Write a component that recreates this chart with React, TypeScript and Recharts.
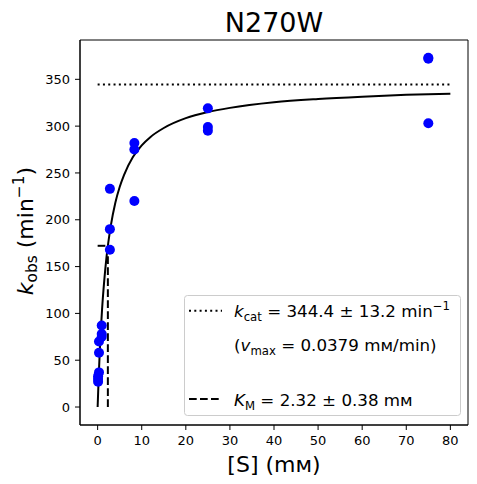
import { ComposedChart, Line, Scatter, XAxis, YAxis, ReferenceLine, ReferenceArea } from "recharts";

// substrate concentrations (mM), triplicates of a 3-fold dilution series
const substrate = [75, 75, 75, 25, 25, 25, 8.33, 8.33, 8.33, 2.78, 2.78, 2.78, 0.926, 0.926, 0.926, 0.309, 0.309, 0.309, 0.103, 0.103, 0.103];
const kobs = [373, 372, 303, 319, 299, 295, 282, 275, 220, 233, 190, 168, 87, 78, 75, 70, 58, 37, 33, 30, 27];

// fitted Michaelis-Menten curve
const fitS = [0, 0.25, 0.5, 1, 1.5, 2, 3, 4, 5, 6, 8, 10, 12, 15, 20, 25, 30, 40, 50, 60, 70, 80];
const fitK = [0, 33.5, 61, 104, 135, 159.5, 194, 218, 235, 248, 267, 279.5, 288.5, 298, 308.5, 315, 319.5, 325.5, 329, 331.5, 333.5, 334.7];

const kcat = 344.4;
const km = 2.32;
const xDomain = [-4, 84];
const yDomain = [-19.2, 392];
const xTicks = [0, 10, 20, 30, 40, 50, 60, 70, 80];
const yTicks = [0, 50, 100, 150, 200, 250, 300, 350];

const points = substrate.map((s, i) => ({ x: s, y: kobs[i] }));
const fit = fitS.map((s, i) => ({ x: s, y: fitK[i] }));

const font = "DejaVu Sans";
const tickStyle = { fontSize: 13, fill: "#000", fontFamily: font };

export default function App() {
  return (
    <div style={{ position: "absolute", left: 0, top: 0, width: 477, height: 484, background: "#fff" }}>
      <ComposedChart width={477} height={484} margin={{ top: 40, right: 9, bottom: 0, left: 0 }}>
        <XAxis
          dataKey="x"
          type="number"
          domain={xDomain}
          ticks={xTicks}
          allowDataOverflow
          height={59}
          tickSize={5}
          tickMargin={6}
          tick={tickStyle}
          axisLine={{ stroke: "#000" }}
          tickLine={{ stroke: "#000" }}
          label={() => (
            <text x={274} y={471.7} textAnchor="middle" fontSize={22} fontFamily={font} fill="#000">
              [S] (mᴍ)
            </text>
          )}
        />
        <YAxis
          type="number"
          domain={yDomain}
          ticks={yTicks}
          allowDataOverflow
          width={80}
          tickSize={5}
          tickMargin={5}
          tick={tickStyle}
          axisLine={{ stroke: "#000" }}
          tickLine={{ stroke: "#000" }}
          label={() => (
            <text x={33.3} y={231} transform="rotate(-90 33.3 231)" textAnchor="middle" fontSize={22} fontFamily={font} fill="#000">
              <tspan fontStyle="italic">k</tspan>
              <tspan fontSize={15.4} dy={4}>obs</tspan>
              <tspan dy={-4}> (min</tspan>
              <tspan fontSize={15.4} dy={-9}>−1</tspan>
              <tspan dy={9}>)</tspan>
            </text>
          )}
        />
        {/* box spines */}
        <ReferenceArea x1={xDomain[0]} x2={xDomain[1]} y1={yDomain[0]} y2={yDomain[1]} fill="none" fillOpacity={0} stroke="#000" strokeWidth={1} ifOverflow="visible" />
        <ReferenceLine segment={[{ x: 0, y: kcat }, { x: 80, y: kcat }]} stroke="#000" strokeWidth={2} strokeDasharray="2 3.3" />
        <ReferenceLine segment={[{ x: 0, y: kcat / 2 }, { x: km, y: kcat / 2 }]} stroke="#000" strokeWidth={2} strokeDasharray="7.7 3.3" />
        <ReferenceLine segment={[{ x: km, y: 0 }, { x: km, y: kcat / 2 }]} stroke="#000" strokeWidth={2} strokeDasharray="7.7 3.3" />
        <Line data={fit} dataKey="y" type="monotone" stroke="#000" strokeWidth={2} dot={false} isAnimationActive={false} />
        <Scatter
          data={points}
          dataKey="y"
          fill="#0000ff"
          isAnimationActive={false}
          shape={(p: any) => <circle cx={p.cx} cy={p.cy} r={5} fill="#0000ff" />}
        />
      </ComposedChart>
      <svg width={477} height={484} style={{ position: "absolute", left: 0, top: 0, pointerEvents: "none" }}>
        <text x={274} y={31.7} textAnchor="middle" fontSize={27} fontFamily={font} fill="#000">
          N270W
        </text>
        <rect x={184.5} y={295.5} width={276} height={120} rx={3} fill="#fff" fillOpacity={0.8} stroke="#cccccc" />
        <line x1={189} x2={222} y1={310.7} y2={310.7} stroke="#000" strokeWidth={2} strokeDasharray="2 3.3" />
        <text x={234} y={317.3} fontSize={16.7} fontFamily={font} fill="#000">
          <tspan fontStyle="italic">k</tspan>
          <tspan fontSize={11.7} dy={3.5}>cat</tspan>
          <tspan dy={-3.5}> = 344.4 ± 13.2 min</tspan>
          <tspan fontSize={11.7} dy={-7}>−1</tspan>
        </text>
        <text x={234} y={351} fontSize={16.7} fontFamily={font} fill="#000">
          <tspan>(</tspan>
          <tspan fontStyle="italic">v</tspan>
          <tspan fontSize={11.7} dy={3.5}>max</tspan>
          <tspan dy={-3.5}> = 0.0379 mᴍ/min)</tspan>
        </text>
        <line x1={189} x2={222} y1={399} y2={399} stroke="#000" strokeWidth={2} strokeDasharray="7.7 3.3" />
        <text x={234} y={406} fontSize={16.7} fontFamily={font} fill="#000">
          <tspan fontStyle="italic">K</tspan>
          <tspan fontSize={11.7} dy={3.5}>M</tspan>
          <tspan dy={-3.5}> = 2.32 ± 0.38 mᴍ</tspan>
        </text>
      </svg>
    </div>
  );
}
